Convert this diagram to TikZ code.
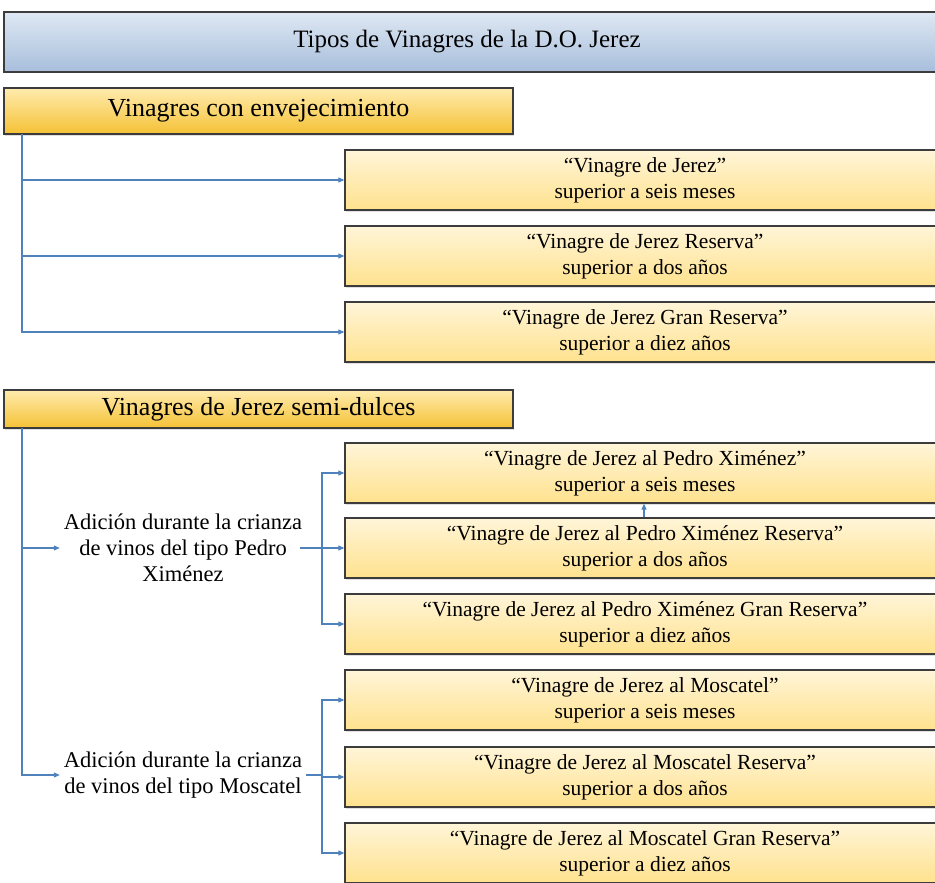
\documentclass[tikz,border=0pt]{standalone}
\usepackage{fontspec}
\setmainfont{Liberation Serif}
\usetikzlibrary{shadows,arrows.meta}
\definecolor{ytop}{HTML}{FFF5D8}
\definecolor{ybot}{HTML}{FFE28E}
\definecolor{gtop}{HTML}{FFEBAE}
\definecolor{gbot}{HTML}{F5C235}
\definecolor{btop}{HTML}{DFE8F3}
\definecolor{bbot}{HTML}{A7BEDC}
\definecolor{edge}{HTML}{3C3C3C}
\definecolor{conn}{HTML}{4F81BD}
\tikzset{
  boxbase/.style={draw=edge, line width=1.3pt, inner sep=0pt, align=center,
    drop shadow={opacity=0.25, shadow xshift=1pt, shadow yshift=-1.5pt}},
  titlebox/.style={boxbase, top color=btop, bottom color=bbot,
    minimum width=940, minimum height=60, font=\fontsize{25}{30}\selectfont},
  headbox/.style={boxbase, top color=gtop, bottom color=gbot,
    minimum width=509, font=\fontsize{26}{30}\selectfont},
  subbox/.style={boxbase, top color=ytop, bottom color=ybot,
    minimum width=600, minimum height=60, font=\fontsize{21.5}{26}\selectfont},
  sidetext/.style={align=center, inner xsep=4pt, inner ysep=0pt, font=\fontsize{22.5}{26}\selectfont},
  arr/.style={draw=conn, line width=1.1pt, -{Triangle[length=6pt,width=5pt]}},
  ln/.style={draw=conn, line width=1.1pt},
}
\begin{document}
\begin{tikzpicture}[x=1pt,y=-1pt]
\useasboundingbox (0,0) rectangle (935,883);
\clip (0,0) rectangle (935,883);
% title
\node[titlebox] (title) at (474,42) {\hspace*{-14pt}Tipos de Vinagres de la D.O. Jerez};
% section 1
\node[headbox, minimum height=46] (s1) at (258.5,111) {Vinagres con envejecimiento};
\node[subbox] (b1) at (645,180) {“Vinagre de Jerez”\\superior a seis meses};
\node[subbox] (b2) at (645,256) {“Vinagre de Jerez Reserva”\\superior a dos años};
\node[subbox] (b3) at (645,332) {“Vinagre de Jerez Gran Reserva”\\superior a diez años};
\coordinate (t1) at (22,134);
\draw[arr] (t1) |- (b1.west);
\draw[arr] (t1) |- (b2.west);
\draw[arr] (t1) |- (b3.west);
% section 2
\node[headbox, minimum height=38] (s2) at (258.5,409) {Vinagres de Jerez semi-dulces};
\node[subbox] (p1) at (645,473) {“Vinagre de Jerez al Pedro Ximénez”\\superior a seis meses};
\node[subbox] (p2) at (645,548) {“Vinagre de Jerez al Pedro Ximénez Reserva”\\superior a dos años};
\node[subbox] (p3) at (645,624) {“Vinagre de Jerez al Pedro Ximénez Gran Reserva”\\superior a diez años};
\node[subbox] (m1) at (645,700) {“Vinagre de Jerez al Moscatel”\\superior a seis meses};
\node[subbox] (m2) at (645,777) {“Vinagre de Jerez al Moscatel Reserva”\\superior a dos años};
\node[subbox] (m3) at (645,853) {“Vinagre de Jerez al Moscatel Gran Reserva”\\superior a diez años};
\node[sidetext] (pxt) at (183,548) {Adición durante la crianza\\de vinos del tipo Pedro\\Ximénez};
\node[sidetext] (mst) at (183,775) {Adición durante la crianza\\de vinos del tipo Moscatel};
\coordinate (t2) at (22,428);
\draw[arr] (t2) |- (pxt.west);
\draw[arr] (t2) |- (mst.west);
% PX branch
\coordinate (jp) at (322,548);
\coordinate (ps) at (300,548);
\draw[arr] (ps) -- (p2.west);
\draw[arr] (jp) |- (p1.west);
\draw[arr] (jp) |- (p3.west);
\draw[arr] (p2.north -| 644,0) -- (p1.south -| 644,0);
% Moscatel branch
\coordinate (jm) at (322,775);
\draw[ln] (mst.east) -- (jm);
\draw[arr] (jm) |- (m1.west);
\draw[arr] (jm) |- (m2.west);
\draw[arr] (jm) |- (m3.west);
\end{tikzpicture}
\end{document}
